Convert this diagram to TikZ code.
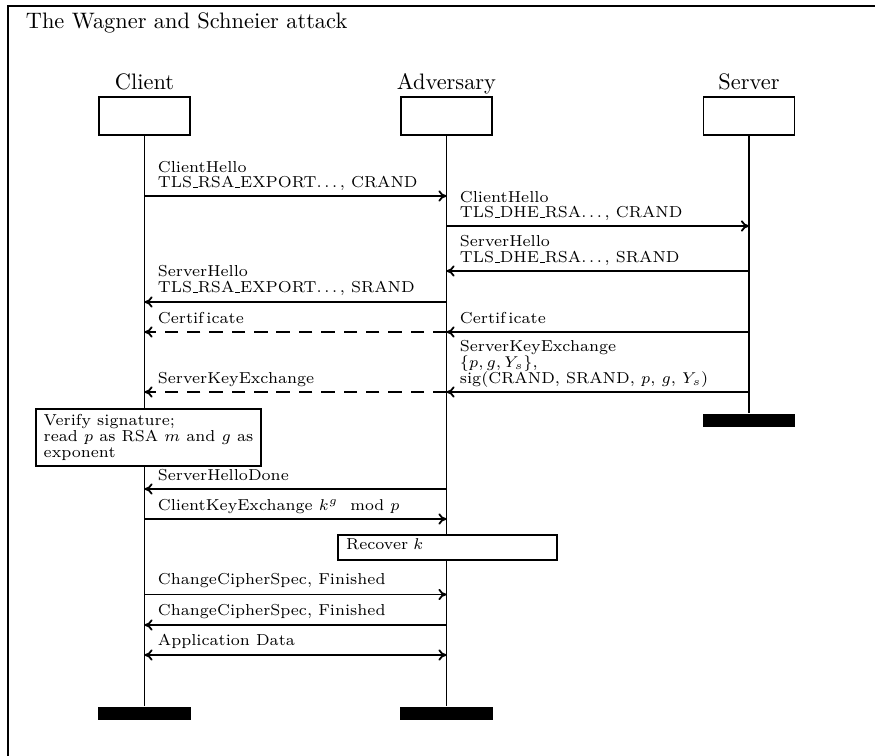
\documentclass[tikz,border=0pt]{standalone}
\usepackage{amsmath}
\usetikzlibrary{arrows.meta}
\newcommand\myus{\leavevmode\kern.06em\vbox{\hrule width.3em}}
\newcommand\mydots{.\kern.1667em.\kern.1667em.\kern.1667em}
\newcommand\tightlines{\lineskiplimit=-20pt\relax\lineskip=0pt\relax}
\begin{document}
\begin{tikzpicture}[x=0.447pt,y=-0.447pt,line width=0.8pt,
  lbl/.style={font=\fontsize{7.1}{7.1}\selectfont\tightlines,inner sep=0pt,anchor=base west,align=left},
  instname/.style={font=\normalsize,inner sep=0pt,anchor=base},
  instbox/.style={draw,inner sep=0pt,minimum width=40.7pt,minimum height=17pt},
  endbar/.style={fill=black,inner sep=0pt,minimum width=41.3pt,minimum height=5.8pt},
  msg/.style={-{To[length=3.6pt,width=5pt]}},
  dmsg/.style={msg,dash pattern=on 6pt off 4pt},
  bmsg/.style={{To[length=3.6pt,width=5pt]}-{To[length=3.6pt,width=5pt]}},
  action/.style={draw,fill=white,font=\fontsize{7.1}{7.15}\selectfont\tightlines,align=left,anchor=north west,inner ysep=0pt,inner xsep=3.5pt}]
\clip (0,0) rectangle (875,756);
\draw (8,6) rectangle (1000,1000);
\node[anchor=base west,inner sep=0pt] (title) at (25,29) {The Wagner and Schneier attack};

% instances
\node[instname] (cn) at (144.5,90) {Client};
\node[instname] (an) at (446.5,90) {Adversary};
\node[instname] (sn) at (749,90) {Server};
\node[instbox] (c) at (144.5,116) {};
\node[instbox] (a) at (446.5,116) {};
\node[instbox] (s) at (749,116) {};
\node[endbar] (ce) at (144.5,713.5) {};
\node[endbar] (ae) at (446.5,713.5) {};
\node[endbar] (se) at (749,420.5) {};
\draw (c.south) -- (ce.north);
\draw (a.south) -- (ae.north);
\draw (s.south) -- (se.north);

% messages
\coordinate (c1) at (144.5,196); \coordinate (a1) at (446.5,196);
\draw[msg] (c1) -- (a1);
\node[lbl] (l1) at (157,188) {ClientHello\\TLS\myus RSA\myus EXPORT\mydots, CRAND};

\coordinate (a2) at (446.5,226); \coordinate (s2) at (749,226);
\draw[msg] (a2) -- (s2);
\node[lbl] (l2) at (459,218) {ClientHello\\TLS\myus DHE\myus RSA\mydots, CRAND};

\coordinate (s3) at (749,271); \coordinate (a3) at (446.5,271);
\draw[msg] (s3) -- (a3);
\node[lbl] (l3) at (459,262.5) {ServerHello\\TLS\myus DHE\myus RSA\mydots, SRAND};

\coordinate (a4) at (446.5,302); \coordinate (c4) at (144.5,302);
\draw[msg] (a4) -- (c4);
\node[lbl] (l4) at (157,292.5) {ServerHello\\TLS\myus RSA\myus EXPORT\mydots, SRAND};

\coordinate (s5) at (749,332); \coordinate (a5) at (446.5,332); \coordinate (c5) at (144.5,332);
\draw[msg] (s5) -- (a5);
\node[lbl] (l5) at (459,323.5) {Certif\,icate};
\draw[dmsg] (a5) -- (c5);
\node[lbl] (l5b) at (157,323.5) {Certif\,icate};

\coordinate (s6) at (749,392); \coordinate (a6) at (446.5,392); \coordinate (c6) at (144.5,392);
\draw[msg] (s6) -- (a6);
\node[lbl] (l6) at (459,383.5) {ServerKeyExchange\\$\{p, g, Y_s\}$,\\sig(CRAND, SRAND, $p$, $g$, $Y_s$)};
\draw[dmsg] (a6) -- (c6);
\node[lbl] (l6b) at (157,383.5) {ServerKeyExchange};

\node[action,minimum height=25.5pt] (verify) at (35,408)
  {Verify signature;\\read $p$ as RSA $m$ and $g$ as\\exponent};

\coordinate (a7) at (446.5,489); \coordinate (c7) at (144.5,489);
\draw[msg] (a7) -- (c7);
\node[lbl] (l7) at (157,481) {ServerHelloDone};

\coordinate (c8) at (144.5,519); \coordinate (a8) at (446.5,519);
\draw[msg] (c8) -- (a8);
\node[lbl] (l8) at (157,511) {ClientKeyExchange $k^g \mod p$};

\node[action,text width=90.8pt,minimum height=11.2pt,text depth=2.7pt] (recover) at (337.4,534) {Recover $k$};

\coordinate (c9) at (144.5,594.5); \coordinate (a9) at (446.5,594.5);
\draw[msg] (c9) -- (a9);
\node[lbl] (l9) at (157,585) {ChangeCipherSpec, Finished};

\coordinate (a10) at (446.5,625); \coordinate (c10) at (144.5,625);
\draw[msg] (a10) -- (c10);
\node[lbl] (l10) at (157,616) {ChangeCipherSpec, Finished};

\coordinate (c11) at (144.5,655); \coordinate (a11) at (446.5,655);
\draw[bmsg] (c11) -- (a11);
\node[lbl] (l11) at (157,646) {Application Data};
\end{tikzpicture}
\end{document}
